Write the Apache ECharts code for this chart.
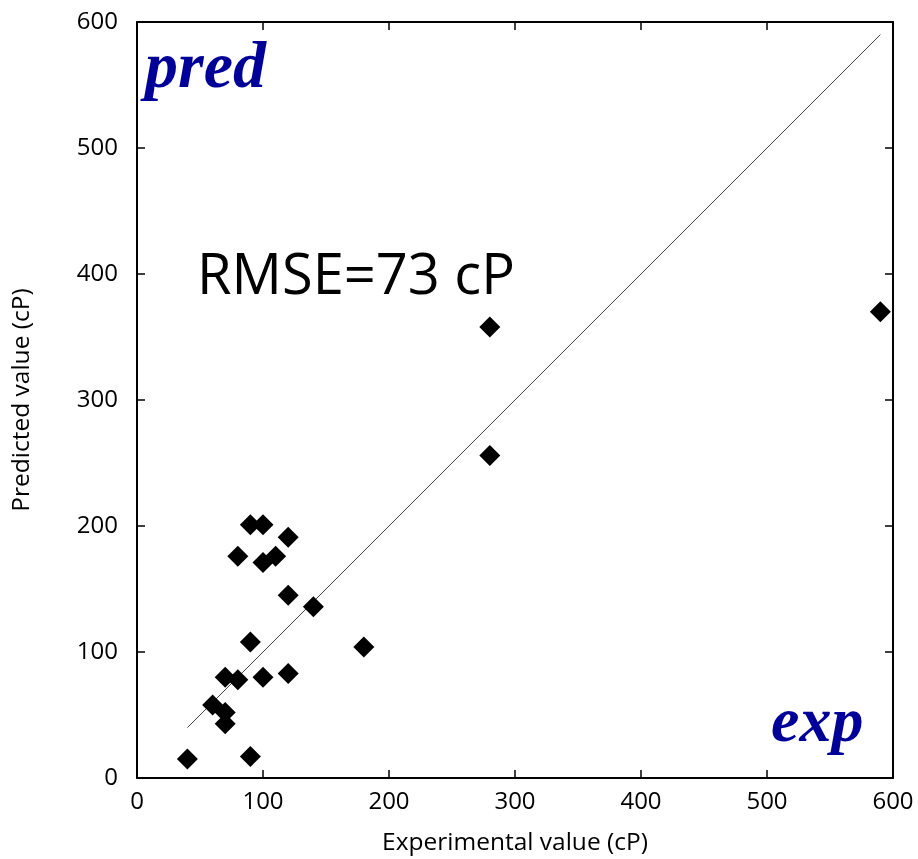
<!DOCTYPE html>
<html>
<head>
<meta charset="utf-8">
<script src="https://cdn.jsdelivr.net/npm/echarts@6/dist/echarts.min.js"></script>
<style>
  html, body { margin: 0; padding: 0; background: #fff; }
  #chart { width: 918px; height: 859px; }
</style>
</head>
<body>
<div id="chart"></div>
<script>
// Experimental vs predicted viscosity (cP)
const experimental = [40, 90, 70, 60, 70, 70, 80, 100, 120, 90, 120, 140, 80, 100, 110, 120, 90, 100, 180, 280, 280, 590];
const predicted    = [15, 17, 43, 58, 52, 80, 78, 80, 83, 108, 145, 136, 176, 171, 176, 191, 201, 201, 104, 358, 256, 370];
// Parity line y = x
const parityLine = [[40, 40], [590, 590]];
const rmseText = 'RMSE=73 cP';

const points = experimental.map((x, i) => [x, predicted[i]]);

const tickFont = { fontFamily: '"Open Sans", sans-serif', fontSize: 24, color: '#000' };
const titleFont = { fontFamily: '"Open Sans", sans-serif', fontSize: 24.5, color: '#000' };

const frameLine = { show: true, onZero: false, lineStyle: { color: '#000', width: 2 } };
const frameTick = { show: true, inside: true, length: 8, lineStyle: { color: '#000', width: 1.5 } };

const chart = echarts.init(document.getElementById('chart'));
chart.setOption({
  animation: false,
  backgroundColor: '#fff',
  grid: { left: 137, right: 25, top: 22, bottom: 81, show: false, containLabel: false, outerBoundsMode: 'none' },
  xAxis: [{
    type: 'value', min: 0, max: 600, interval: 100, position: 'bottom',
    name: 'Experimental value (cP)', nameLocation: 'middle', nameGap: 53,
    nameTextStyle: titleFont,
    axisLine: frameLine, axisTick: frameTick,
    axisLabel: Object.assign({ margin: 12 }, tickFont),
    splitLine: { show: false }
  }, {
    type: 'value', min: 0, max: 600, interval: 100, position: 'top',
    axisLine: frameLine, axisTick: frameTick,
    axisLabel: { show: false },
    splitLine: { show: false }
  }],
  yAxis: [{
    type: 'value', min: 0, max: 600, interval: 100, position: 'left',
    name: 'Predicted value (cP)', nameLocation: 'middle', nameGap: 102,
    nameTextStyle: titleFont,
    axisLine: frameLine, axisTick: frameTick,
    axisLabel: Object.assign({ margin: 19 }, tickFont),
    splitLine: { show: false }
  }, {
    type: 'value', min: 0, max: 600, interval: 100, position: 'right',
    axisLine: frameLine, axisTick: frameTick,
    axisLabel: { show: false },
    splitLine: { show: false }
  }],
  series: [{
    type: 'line',
    data: parityLine,
    symbol: 'none',
    lineStyle: { color: '#444', width: 1 },
    z: 2
  }, {
    type: 'scatter',
    data: points,
    symbol: 'diamond',
    symbolSize: 21,
    itemStyle: { color: '#000', opacity: 1 },
    z: 3
  }],
  graphic: [{
    type: 'text', x: 145, y: 70,
    style: { text: 'pred', font: 'italic bold 66px "Liberation Serif", serif', fill: '#000099', verticalAlign: 'middle' }
  }, {
    type: 'text', x: 771, y: 724,
    style: { text: 'exp', font: 'italic bold 64px "Liberation Serif", serif', fill: '#000099', verticalAlign: 'middle' }
  }, {
    type: 'text', x: 197, y: 278,
    style: { text: rmseText, font: '56px "Open Sans", sans-serif', fill: '#000', verticalAlign: 'middle' }
  }]
});
</script>
</body>
</html>
